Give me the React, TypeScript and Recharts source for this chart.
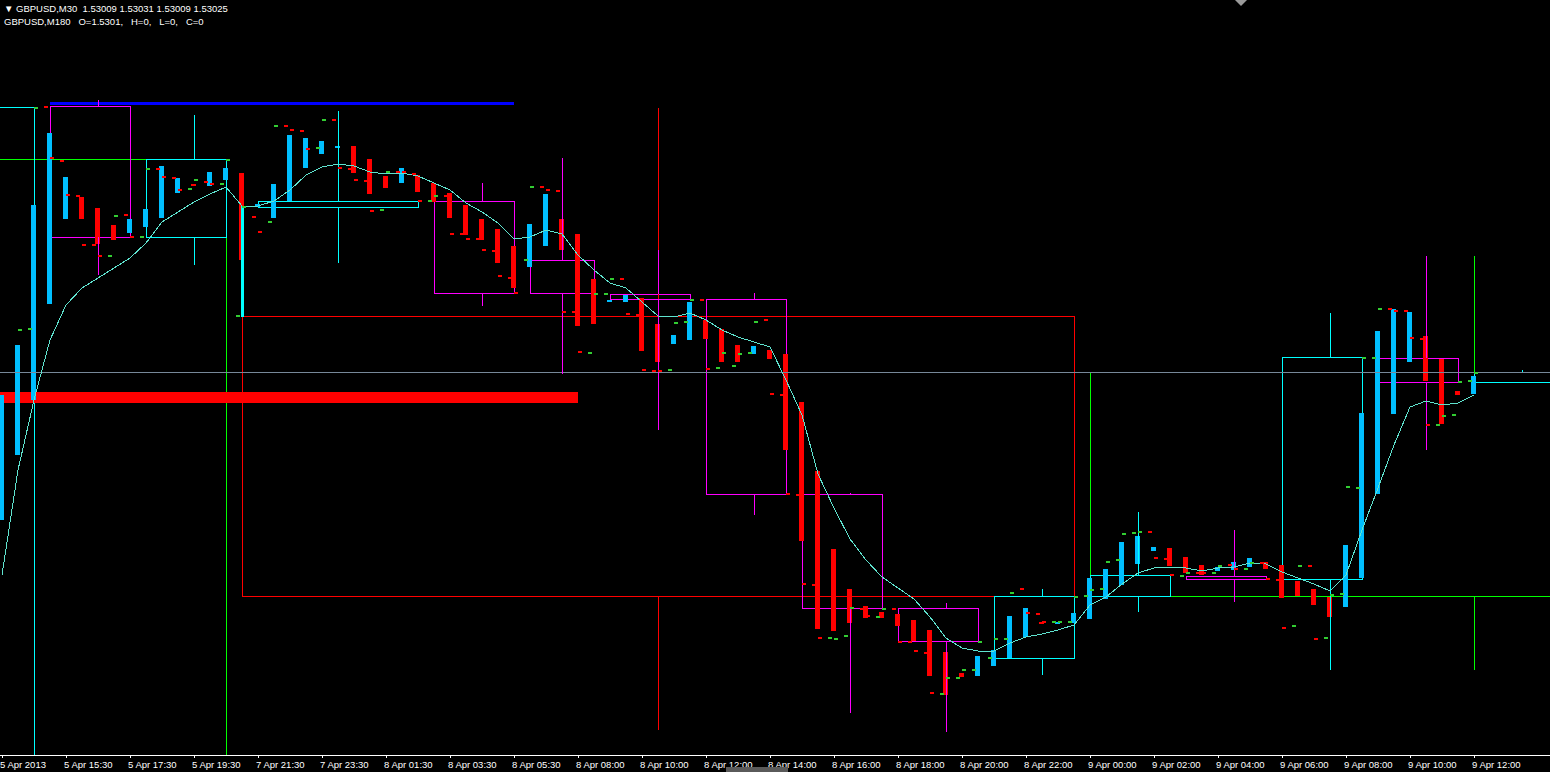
import React from 'react';
import { ComposedChart, Bar, Line, Scatter, XAxis, YAxis, Cell, ReferenceArea, ReferenceLine } from 'recharts';

// GBPUSD M30 candles, 5 Apr 2013 13:30 -> 9 Apr 2013 12:00
const opens = [
  1.52760, 1.52890, 1.53000, 1.53192, 1.53362, 1.53406, 1.53384, 1.53350, 1.53334, 1.53346,
  1.53364, 1.53414, 1.53432, 1.53428, 1.53440, 1.53454, 1.53386, 1.53364, 1.53398, 1.53464,
  1.53492, 1.53504, 1.53508, 1.53482, 1.53448, 1.53434, 1.53450, 1.53434, 1.53414, 1.53390,
  1.53362, 1.53342, 1.53308, 1.53266, 1.53308, 1.53362, 1.53332, 1.53242, 1.53196, 1.53196,
  1.53204, 1.53152, 1.53112, 1.53120, 1.53160, 1.53142, 1.53110, 1.53092, 1.53100, 1.53092,
  1.52996, 1.52858, 1.52702, 1.52622, 1.52588, 1.52576, 1.52572, 1.52560, 1.52540, 1.52496,
  1.52454, 1.52448, 1.52468, 1.52484, 1.52526, 1.52556, 1.52552, 1.52554, 1.52562, 1.52602,
  1.52630, 1.52672, 1.52698, 1.52704, 1.52686, 1.52670, 1.52658, 1.52660, 1.52666, 1.52676,
  1.52670, 1.52638, 1.52622, 1.52606, 1.52586, 1.52644, 1.52812, 1.52972, 1.53076, 1.53128,
  1.53082, 1.53018, 1.53012,
];
const closes = [
  1.53010, 1.53110, 1.53390, 1.53534, 1.53446, 1.53362, 1.53312, 1.53320, 1.53362, 1.53382,
  1.53468, 1.53444, 1.53428, 1.53456, 1.53464, 1.53280, 1.53392, 1.53432, 1.53530, 1.53524,
  1.53518, 1.53508, 1.53454, 1.53412, 1.53424, 1.53464, 1.53416, 1.53396, 1.53364, 1.53330,
  1.53320, 1.53274, 1.53224, 1.53352, 1.53412, 1.53300, 1.53148, 1.53152, 1.53200, 1.53210,
  1.53098, 1.53076, 1.53130, 1.53196, 1.53122, 1.53076, 1.53076, 1.53108, 1.53082, 1.52900,
  1.52718, 1.52542, 1.52538, 1.52554, 1.52564, 1.52564, 1.52548, 1.52518, 1.52448, 1.52410,
  1.52446, 1.52488, 1.52500, 1.52568, 1.52584, 1.52552, 1.52556, 1.52574, 1.52644, 1.52662,
  1.52716, 1.52728, 1.52706, 1.52668, 1.52654, 1.52650, 1.52666, 1.52676, 1.52684, 1.52662,
  1.52604, 1.52608, 1.52590, 1.52566, 1.52710, 1.52974, 1.53138, 1.53182, 1.53176, 1.53038,
  1.52952, 1.53010, 1.53048,
];

// moving average
const maValues = [
  1.52650, 1.52860, 1.53000, 1.53120, 1.53190, 1.53224, 1.53244, 1.53264, 1.53284, 1.53314,
  1.53356, 1.53376, 1.53396, 1.53412, 1.53426, 1.53388, 1.53388, 1.53398, 1.53420, 1.53450,
  1.53466, 1.53472, 1.53468, 1.53456, 1.53452, 1.53454, 1.53448, 1.53434, 1.53420, 1.53394,
  1.53376, 1.53354, 1.53322, 1.53326, 1.53340, 1.53332, 1.53290, 1.53260, 1.53234, 1.53224,
  1.53196, 1.53168, 1.53166, 1.53174, 1.53160, 1.53140, 1.53126, 1.53116, 1.53106, 1.53040,
  1.52970, 1.52852, 1.52784, 1.52722, 1.52680, 1.52646, 1.52624, 1.52602, 1.52566, 1.52524,
  1.52504, 1.52498, 1.52498, 1.52514, 1.52526, 1.52532, 1.52540, 1.52550, 1.52590, 1.52606,
  1.52632, 1.52654, 1.52664, 1.52666, 1.52664, 1.52658, 1.52664, 1.52666, 1.52674, 1.52672,
  1.52656, 1.52644, 1.52632, 1.52618, 1.52650, 1.52740, 1.52824, 1.52910, 1.52986, 1.52998,
  1.52990, 1.52994, 1.53010,
];

// small indicator marks either side of each candle
const dashLeft = [
  null, null, 1.53142, 1.53586, 1.53478, 1.53408, 1.53310, 1.53288, 1.53370, 1.53326,
  1.53462, 1.53444, 1.53422, 1.53436, 1.53432, 1.53168, 1.53366, 1.53356, 1.53548, 1.53538,
  1.53504, 1.53560, 1.53462, 1.53438, 1.53380, 1.53456, 1.53452, 1.53398, 1.53408, 1.53332,
  1.53322, 1.53298, 1.53244, 1.53280, 1.53426, 1.53418, 1.53176, 1.53094, 1.53212, 1.53242,
  1.53170, 1.53058, 1.53060, 1.53156, 1.53200, 1.53064, 1.53068, 1.53094, 1.53160, 1.53010,
  1.52810, 1.52630, 1.52524, 1.52528, 1.52582, 1.52566, 1.52582, 1.52516, 1.52494, 1.52412,
  1.52444, 1.52460, 1.52484, 1.52522, 1.52622, 1.52572, 1.52556, 1.52556, 1.52608, 1.52622,
  1.52680, 1.52734, 1.52736, 1.52682, 1.52648, 1.52654, 1.52654, 1.52670, 1.52662, 1.52674,
  1.52640, 1.52548, 1.52668, 1.52524, 1.52612, 1.52824, 1.53084, 1.53182, 1.53178, 1.53122,
  1.52950, 1.52970, 1.53038,
];
const dashRight = [
  null, 1.53140, 1.53584, 1.53484, 1.53410, 1.53310, 1.53288, 1.53368, 1.53326, 1.53462,
  1.53446, 1.53420, 1.53440, 1.53432, 1.53480, 1.53386, 1.53336, 1.53548, 1.53540, 1.53502,
  1.53560, 1.53464, 1.53440, 1.53378, 1.53456, 1.53456, 1.53398, 1.53408, 1.53332, 1.53322,
  1.53300, 1.53248, 1.53214, 1.53426, 1.53420, 1.53176, 1.53096, 1.53212, 1.53242, 1.53172,
  1.53060, 1.53058, 1.53154, 1.53200, 1.53062, 1.53094, 1.53092, 1.53156, 1.53012, 1.52812,
  1.52632, 1.52524, 1.52522, 1.52584, 1.52568, 1.52582, 1.52516, 1.52498, 1.52414, 1.52444,
  1.52460, 1.52516, 1.52522, 1.52614, 1.52574, 1.52556, 1.52556, 1.52606, 1.52620, 1.52676,
  1.52732, 1.52736, 1.52684, 1.52650, 1.52654, 1.52654, 1.52668, 1.52662, 1.52674, 1.52642,
  1.52544, 1.52668, 1.52522, 1.52610, 1.52826, 1.53084, 1.53182, 1.53178, 1.53124, 1.52950,
  1.52968, 1.53036, 1.53054,
];
// u = up mark, d = down mark
const dashTrend =
  '-uuddddudu' + 'dduduududd' + 'uddduddudd' + 'ddduddduud' + 'dduuduuudd' +
  'dduududddu' + 'uuuudduuuu' + 'uuddududud' + 'duduuuuddd' + 'uuu';

const tickBars = [0, 4, 8, 12, 16, 20, 24, 28, 32, 36, 40, 44, 48, 52, 56, 60, 64, 68, 72, 76, 80, 84, 88, 92];
const tickLabels = [
  '5 Apr 2013', '5 Apr 15:30', '5 Apr 17:30', '5 Apr 19:30', '7 Apr 21:30', '7 Apr 23:30',
  '8 Apr 01:30', '8 Apr 03:30', '8 Apr 05:30', '8 Apr 08:00', '8 Apr 10:00', '8 Apr 12:00',
  '8 Apr 14:00', '8 Apr 16:00', '8 Apr 18:00', '8 Apr 20:00', '8 Apr 22:00', '9 Apr 00:00',
  '9 Apr 02:00', '9 Apr 04:00', '9 Apr 06:00', '9 Apr 08:00', '9 Apr 10:00', '9 Apr 12:00',
];

// M180 candles overlaid (first..last M30 bar, bar of the wick)
const m180 = [
  { from: -3, to: 2, mid: 0, open: 1.52200, high: 1.53586, low: 1.52200, close: 1.53586 },
  { from: 3, to: 8, mid: 6, open: 1.53588, high: 1.53600, low: 1.53250, close: 1.53326 },
  { from: 9, to: 14, mid: 12, open: 1.53326, high: 1.53570, low: 1.53270, close: 1.53482 },
  { from: 15, to: 15, mid: 15, open: 1.53166, high: 1.53388, low: 1.53166, close: 1.53388 },
  { from: 16, to: 26, mid: 21, open: 1.53386, high: 1.53578, low: 1.53274, close: 1.53398 },
  { from: 27, to: 32, mid: 30, open: 1.53398, high: 1.53434, low: 1.53188, close: 1.53214 },
  { from: 33, to: 37, mid: 35, open: 1.53280, high: 1.53484, low: 1.53052, close: 1.53214 },
  { from: 38, to: 43, mid: 41, open: 1.53212, high: 1.53300, low: 1.52940, close: 1.53202 },
  { from: 44, to: 49, mid: 47, open: 1.53202, high: 1.53214, low: 1.52770, close: 1.52812 },
  { from: 50, to: 55, mid: 53, open: 1.52812, high: 1.52814, low: 1.52374, close: 1.52584 },
  { from: 56, to: 61, mid: 59, open: 1.52584, high: 1.52594, low: 1.52336, close: 1.52518 },
  { from: 62, to: 67, mid: 65, open: 1.52484, high: 1.52622, low: 1.52450, close: 1.52608 },
  { from: 68, to: 73, mid: 71, open: 1.52608, high: 1.52776, low: 1.52576, close: 1.52650 },
  { from: 74, to: 79, mid: 77, open: 1.52648, high: 1.52740, low: 1.52596, close: 1.52642 },
  { from: 80, to: 85, mid: 83, open: 1.52642, high: 1.53174, low: 1.52460, close: 1.53086 },
  { from: 86, to: 91, mid: 89, open: 1.53084, high: 1.53288, low: 1.52900, close: 1.53036 },
  { from: 92, to: 97, mid: 95, open: 1.53036, high: 1.53060, low: 1.53036, close: 1.53056 },
];

// daily candles overlaid
const daily = [
  { from: -40, to: 14, mid: -13, open: 1.52200, high: 1.53482, low: 1.52200, close: 1.53482 },
  { from: 15, to: 67, mid: 41, open: 1.53168, high: 1.53584, low: 1.52340, close: 1.52608 },
  { from: 68, to: 115, mid: 92, open: 1.52608, high: 1.53288, low: 1.52460, close: 1.53056 },
];

// drawn levels
const levels = [
  { kind: 'high', from: 3, to: 32, lo: 1.53590, hi: 1.53597 },
  { kind: 'low', from: -1, to: 36, lo: 1.52994, hi: 1.53016 },
];
const bidLine = 1.53056;

const BULL = '#00BFFF';
const BEAR = '#FF0000';
const FONT = '"Liberation Sans", Arial, sans-serif';

const rows = opens.map((o, i) => ({
  idx: i,
  body: [Math.min(o, closes[i]), Math.max(o, closes[i])],
  ma: maValues[i],
}));

const dashes: { idx: number; price: number; side: string; up: boolean }[] = [];
opens.forEach((_, i) => {
  const up = dashTrend[i] === 'u';
  if (dashLeft[i] != null) dashes.push({ idx: i, price: dashLeft[i] as number, side: 'L', up });
  if (dashRight[i] != null) dashes.push({ idx: i, price: dashRight[i] as number, side: 'R', up });
});

const DashShape = (props: any) => {
  const { cx, cy, payload } = props;
  if (cx == null || cy == null) return null;
  const x = Math.round(payload.side === 'L' ? cx - 6 : cx);
  return <rect x={x} y={Math.round(cy - 1)} width={4} height={2} fill={payload.up ? '#32CD32' : '#FF0000'} />;
};

const AxisTick = (props: any) => {
  const { x, y, payload } = props;
  const label = tickLabels[tickBars.indexOf(payload.value)];
  return (
    <text x={x - 2} y={y + 8} fill="#ffffff" fontSize={9.5} fontFamily={FONT}>
      {label}
    </text>
  );
};

const candleOverlay = (c: any, key: string, bullColor: string, bearColor: string) => {
  const color = c.close >= c.open ? bullColor : bearColor;
  const top = Math.max(c.open, c.close);
  const bot = Math.min(c.open, c.close);
  const out: any[] = [];
  if (c.from === c.to) {
    out.push(
      <ReferenceLine key={key + 'b'} segment={[{ x: c.from, y: bot }, { x: c.from, y: top }]} stroke={color} strokeWidth={3} ifOverflow="hidden" />
    );
  } else {
    out.push(
      <ReferenceArea key={key + 'b'} x1={c.from} x2={c.to} y1={bot} y2={top} stroke={color} strokeWidth={1} fill="none" fillOpacity={0} ifOverflow="hidden" />
    );
  }
  if (c.high > top) {
    out.push(<ReferenceLine key={key + 'h'} segment={[{ x: c.mid, y: top }, { x: c.mid, y: c.high }]} stroke={color} ifOverflow="hidden" />);
  }
  if (c.low < bot) {
    out.push(<ReferenceLine key={key + 'l'} segment={[{ x: c.mid, y: c.low }, { x: c.mid, y: bot }]} stroke={color} ifOverflow="hidden" />);
  }
  return out;
};

export default function App() {
  return (
    <div style={{ position: 'relative', width: 1550, height: 772, background: '#000', overflow: 'hidden' }}>
      <style>{'body{margin:0;background:#000} .recharts-surface *{shape-rendering:crispEdges}'}</style>
      <ComposedChart width={1550} height={772} data={rows} margin={{ top: 0, right: 0, bottom: 0, left: 0 }}>
        <XAxis
          dataKey="idx"
          type="number"
          domain={[-0.125, 96.75]}
          allowDataOverflow
          ticks={tickBars}
          interval={0}
          height={17}
          tick={<AxisTick />}
          tickSize={3}
          axisLine={{ stroke: '#ffffff' }}
          tickLine={{ stroke: '#ffffff' }}
        />
        <YAxis hide type="number" domain={[1.5229, 1.538]} allowDataOverflow />

        <ReferenceLine y={bidLine} stroke="#778899" ifOverflow="hidden" />
        {daily.map((c, i) => candleOverlay(c, 'd' + i, '#00FF00', '#FF0000'))}
        {m180.map((c, i) => candleOverlay(c, 'm' + i, '#00FFFF', '#FF00FF'))}

        <Bar dataKey="body" barSize={5} isAnimationActive={false}>
          {rows.map((r, i) => (
            <Cell key={i} fill={closes[i] >= opens[i] ? BULL : BEAR} />
          ))}
        </Bar>
        <Line
          dataKey="ma"
          type="linear"
          stroke="#5FE3CF"
          strokeWidth={1}
          dot={false}
          activeDot={false}
          isAnimationActive={false}
        />
        <Scatter data={dashes} dataKey="price" shape={<DashShape />} isAnimationActive={false} />

        {levels.map((l, i) => (
          <ReferenceArea
            key={'lv' + i}
            x1={l.from}
            x2={l.to}
            y1={l.lo}
            y2={l.hi}
            fill={l.kind === 'high' ? '#0000FF' : '#FF0000'}
            fillOpacity={1}
            stroke="none"
            ifOverflow="hidden"
          />
        ))}
      </ComposedChart>

      <div
        style={{
          position: 'absolute', left: 4, top: 2, color: '#ffffff', fontFamily: FONT, fontSize: 9.5,
          lineHeight: '13px', whiteSpace: 'pre',
        }}
      >
        <div>{'\u25BC GBPUSD,M30  1.53009 1.53031 1.53009 1.53025'}</div>
        <div>{'GBPUSD,M180   O=1.5301,   H=0,   L=0,   C=0'}</div>
      </div>
      <div
        style={{
          position: 'absolute', left: 1235, top: 0, width: 0, height: 0,
          borderLeft: '6px solid transparent', borderRight: '6px solid transparent', borderTop: '6px solid #9a9a9a',
        }}
      />
      <div style={{ position: 'absolute', left: 726, top: 767, width: 62, height: 5, background: '#5a5a5a' }} />
    </div>
  );
}
